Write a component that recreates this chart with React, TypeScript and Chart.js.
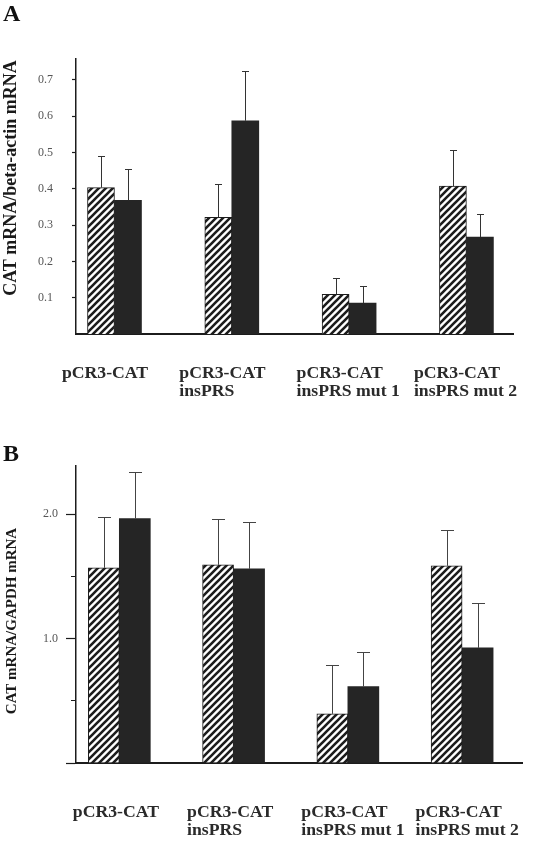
import React, { useEffect, useRef } from 'react';
import { Chart, registerables } from 'chart.js';

Chart.register(...registerables);

// ---------- data ----------
const categoryLines: string[][] = [
  ['pCR3-CAT'],
  ['pCR3-CAT', 'insPRS'],
  ['pCR3-CAT', 'insPRS mut 1'],
  ['pCR3-CAT', 'insPRS mut 2'],
];

const panelALetter = 'A';
const panelBLetter = 'B';
const yTitleA = 'CAT mRNA/beta-actin mRNA';
const yTitleB = 'CAT mRNA/GAPDH mRNA';

const aHatched = [0.403, 0.321, 0.109, 0.407];
const aHatchedErr = [0.086, 0.091, 0.044, 0.099];
const aBlack = [0.368, 0.587, 0.085, 0.267];
const aBlackErr = [0.087, 0.138, 0.046, 0.063];

const bHatched = [1.568, 1.592, 0.395, 1.584];
const bHatchedErr = [0.409, 0.369, 0.391, 0.289];
const bBlack = [1.964, 1.56, 0.614, 0.925];
const bBlackErr = [0.375, 0.374, 0.279, 0.359];

const aTickValues = [0.1, 0.2, 0.3, 0.4, 0.5, 0.6, 0.7];
const aTickLabels = ['0.1', '0.2', '0.3', '0.4', '0.5', '0.6', '0.7'];
const bTickValues = [0, 0.5, 1.0, 1.5, 2.0];
const bTickLabels = ['', '', '1.0', '', '2.0'];
const bTickMajor = [true, false, true, false, true];

const SERIF = "'Liberation Serif', 'Times New Roman', Times, serif";

// ---------- helpers ----------
function hatchPattern(): CanvasPattern | string {
  const s = 7;
  const c = document.createElement('canvas');
  c.width = s;
  c.height = s;
  const g = c.getContext('2d');
  if (!g) return '#888';
  g.fillStyle = '#ffffff';
  g.fillRect(0, 0, s, s);
  g.strokeStyle = '#1c1c1c';
  g.lineWidth = 2.6;
  g.beginPath();
  g.moveTo(-1, s + 1);
  g.lineTo(s + 1, -1);
  g.moveTo(-2, 2);
  g.lineTo(2, -2);
  g.moveTo(s - 2, s + 2);
  g.lineTo(s + 2, s - 2);
  g.stroke();
  return g.createPattern(c, 'repeat') || '#888';
}

const errorBarPlugin = {
  id: 'errorBars',
  afterDatasetsDraw(chart: any, _args: any, opts: any) {
    const ctx = chart.ctx;
    const yScale = chart.scales.y;
    chart.data.datasets.forEach((ds: any, di: number) => {
      const errs: number[] | undefined = ds.errors;
      if (!errs) return;
      const meta = chart.getDatasetMeta(di);
      meta.data.forEach((bar: any, i: number) => {
        const v = ds.data[i].y;
        const top = yScale.getPixelForValue(v + errs[i]);
        const x = Math.round(bar.x) + 0.5;
        const yTop = Math.round(top) + 0.5;
        ctx.save();
        ctx.strokeStyle = opts.color;
        ctx.lineWidth = opts.width;
        ctx.beginPath();
        ctx.moveTo(x, bar.y);
        ctx.lineTo(x, yTop);
        ctx.moveTo(x - opts.cap / 2, yTop);
        ctx.lineTo(x + opts.cap / 2, yTop);
        ctx.stroke();
        ctx.restore();
      });
    });
  },
};

const yTitlePlugin = {
  id: 'yTitle',
  afterDraw(chart: any, _args: any, opts: any) {
    const ctx = chart.ctx;
    ctx.save();
    ctx.translate(opts.x, opts.y);
    ctx.rotate(-Math.PI / 2);
    ctx.font = opts.font;
    ctx.fillStyle = opts.color;
    ctx.textAlign = 'center';
    ctx.textBaseline = 'middle';
    ctx.fillText(opts.text, 0, 0);
    ctx.restore();
  },
};

function buildConfig(p: {
  letter: string;
  hatched: number[];
  hatchedErr: number[];
  black: number[];
  blackErr: number[];
  pattern: CanvasPattern | string;
  titlePad: { top: number; bottom: number };
  padRight: number;
  xMin: number;
  xMax: number;
  xHeight: number;
  labelOffset: number;
  labelPadding: number;
  yMax: number;
  tickValues: number[];
  tickLabels: string[];
  tickLength: number;
  tickDash: (i: number) => number[];
  tickPadding: number;
  barThickness: number;
  errCap: number;
  errColor: string;
  yTitle: { text: string; x: number; y: number; font: string };
}): any {
  return {
    type: 'bar',
    data: {
      datasets: [
        {
          label: 'hatched',
          data: p.hatched.map((v, i) => ({ x: i, y: v })),
          errors: p.hatchedErr,
          backgroundColor: p.pattern,
          borderColor: '#1c1c1c',
          borderWidth: 1,
          barThickness: p.barThickness,
        },
        {
          label: 'black',
          data: p.black.map((v, i) => ({ x: i, y: v })),
          errors: p.blackErr,
          backgroundColor: '#252525',
          borderColor: '#252525',
          borderWidth: 0,
          barThickness: p.barThickness,
        },
      ],
    },
    options: {
      responsive: false,
      animation: false,
      devicePixelRatio: 1,
      layout: { padding: { left: 3, right: p.padRight, top: 0, bottom: 0 } },
      plugins: {
        legend: { display: false },
        tooltip: { enabled: false },
        title: {
          display: true,
          text: p.letter,
          align: 'start',
          color: '#111',
          font: { family: SERIF, size: 24, weight: 'bold', lineHeight: 0.9 },
          padding: p.titlePad,
        },
        errorBars: { color: p.errColor, width: 1, cap: p.errCap },
        yTitle: { text: p.yTitle.text, x: p.yTitle.x, y: p.yTitle.y, font: p.yTitle.font, color: '#1a1a1a' },
      },
      scales: {
        x: {
          type: 'linear',
          offset: false,
          min: p.xMin,
          max: p.xMax,
          grid: { display: false, drawTicks: false, offset: false },
          border: { display: true, color: '#1c1c1c', width: 2 },
          afterBuildTicks: (s: any) => {
            s.ticks = categoryLines.map((_, i) => ({ value: i }));
          },
          afterFit: (s: any) => {
            s.height = p.xHeight;
            s.paddingLeft = 0;
            s.paddingRight = 0;
          },
          ticks: {
            autoSkip: false,
            maxRotation: 0,
            minRotation: 0,
            align: 'start',
            labelOffset: p.labelOffset,
            padding: p.labelPadding,
            color: '#2a2a2a',
            font: { family: SERIF, size: 17.7, weight: 'bold', lineHeight: 1.0 },
            callback: (_v: any, i: number) => categoryLines[i],
          },
        },
        y: {
          type: 'linear',
          min: 0,
          max: p.yMax,
          afterBuildTicks: (s: any) => {
            s.ticks = p.tickValues.map((v) => ({ value: v }));
          },
          afterFit: (s: any) => {
            s.width = 73;
            s.paddingTop = 0;
            s.paddingBottom = 0;
          },
          grid: {
            display: true,
            drawOnChartArea: false,
            drawTicks: true,
            tickLength: p.tickLength,
            tickWidth: 1.2,
            tickColor: '#1c1c1c',
            tickBorderDash: (ctx: any) => p.tickDash(ctx.index),
          },
          border: { display: true, color: '#1c1c1c', width: 1.5 },
          ticks: {
            padding: p.tickPadding,
            color: '#555',
            font: { family: SERIF, size: 12 },
            callback: (_v: any, i: number) => p.tickLabels[i],
          },
        },
      },
    },
    plugins: [errorBarPlugin, yTitlePlugin],
  };
}

export default function App() {
  const refA = useRef<HTMLCanvasElement | null>(null);
  const refB = useRef<HTMLCanvasElement | null>(null);

  useEffect(() => {
    if (!refA.current || !refB.current) return;
    const pattern = hatchPattern();

    const chartA = new Chart(
      refA.current,
      buildConfig({
        letter: panelALetter,
        hatched: aHatched,
        hatchedErr: aHatchedErr,
        black: aBlack,
        blackErr: aBlackErr,
        pattern,
        titlePad: { top: 3.7, bottom: 33.7 },
        padRight: 21,
        xMin: -0.328,
        xMax: 3.397,
        xHeight: 66,
        labelOffset: -52.5,
        labelPadding: 30.5,
        yMax: 0.757,
        tickValues: aTickValues,
        tickLabels: aTickLabels,
        tickLength: 4,
        tickDash: () => [],
        tickPadding: 19,
        barThickness: 27,
        errCap: 7,
        errColor: '#333',
        yTitle: { text: yTitleA, x: 11, y: 178, font: `bold 18px ${SERIF}` },
      })
    );

    const chartB = new Chart(
      refB.current,
      buildConfig({
        letter: panelBLetter,
        hatched: bHatched,
        hatchedErr: bHatchedErr,
        black: bBlack,
        blackErr: bBlackErr,
        pattern,
        titlePad: { top: 44.2, bottom: 0.2 },
        padRight: 12,
        xMin: -0.379,
        xMax: 3.524,
        xHeight: 78,
        labelOffset: -46.5,
        labelPadding: 40.5,
        yMax: 2.386,
        tickValues: bTickValues,
        tickLabels: bTickLabels,
        tickLength: 10,
        tickDash: (i: number) => (bTickMajor[i] ? [] : [0, 5, 20]),
        tickPadding: 8,
        barThickness: 31,
        errCap: 13,
        errColor: '#444',
        yTitle: { text: yTitleB, x: 12, y: 221, font: `bold 15px ${SERIF}` },
      })
    );

    return () => {
      chartA.destroy();
      chartB.destroy();
    };
  }, []);

  return (
    <div style={{ position: 'absolute', left: 0, top: 0, width: 534, height: 841, background: '#fff' }}>
      <canvas ref={refA} width={534} height={400} style={{ display: 'block', width: 534, height: 400 }} />
      <canvas ref={refB} width={534} height={441} style={{ display: 'block', width: 534, height: 441 }} />
    </div>
  );
}
